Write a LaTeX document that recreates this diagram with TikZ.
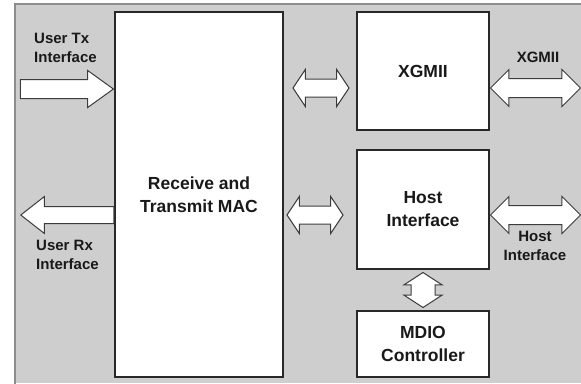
\documentclass[tikz,border=0pt]{standalone}
\usepackage{fontspec}
\setmainfont{Liberation Sans}
\usetikzlibrary{shapes.arrows,calc}
\definecolor{bggray}{RGB}{206,206,206}
\definecolor{framegray}{RGB}{140,140,140}
\definecolor{boxline}{RGB}{40,40,40}
\definecolor{arrowline}{RGB}{60,60,60}
\definecolor{txtgray}{RGB}{25,25,25}
\tikzset{
  block/.style={draw=boxline,fill=white,line width=1.5pt,inner sep=0pt,align=center,
    font=\bfseries\fontsize{17.5}{23}\selectfont,text=txtgray},
  lbl/.style={inner sep=0pt,font=\bfseries\fontsize{15}{19}\selectfont,text=txtgray},
  sglarrow/.style={single arrow,draw=arrowline,fill=white,line width=1pt,inner xsep=0pt},
  dblarrow/.style={double arrow,draw=arrowline,fill=white,line width=1pt,inner xsep=0pt}
}
\begin{document}
\begin{tikzpicture}[x=1pt,y=-1pt]
  \useasboundingbox (0,0) rectangle (581,383);
  % panel
  \fill[bggray] (15,3) rectangle (581,383);
  \draw[framegray,line width=2pt] (15,384) -- (15,4) -- (582,4);
  % blocks
  \node[block,minimum width=168pt,minimum height=365pt] (mac) at (199,194.5) {Receive and\\Transmit MAC};
  \node[block,minimum width=132pt,minimum height=118pt] (xgmii) at (423,71) {XGMII};
  \node[block,minimum width=132pt,minimum height=119pt] (host) at (423,209.5) {Host\\Interface};
  \node[block,minimum width=132pt,minimum height=66pt] (mdio) at (423,344) {MDIO\\Controller};
  % user side
  \node[sglarrow,minimum height=93pt,inner ysep=9pt,single arrow head extend=9pt,
    single arrow tip angle=71.5,anchor=tip] (txarrow) at (mac.west |- 0,89) {};
  \node[sglarrow,minimum height=93pt,inner ysep=8pt,single arrow head extend=10pt,
    single arrow tip angle=76,shape border rotate=180,anchor=tail] (rxarrow) at (mac.west |- 0,215) {};
  \node[lbl,align=left,anchor=west] (txlbl) at (34,48) {User Tx\\Interface};
  \node[lbl,align=left,anchor=west] (rxlbl) at (36,255) {User Rx\\Interface};
  % MAC to blocks
  \node[dblarrow,minimum height=56pt,inner ysep=8.5pt,double arrow head extend=9.5pt,
    double arrow tip angle=112.6] (macxgmii) at (321,88) {};
  \node[dblarrow,minimum height=56pt,inner ysep=8.5pt,double arrow head extend=9.5pt,
    double arrow tip angle=112.6] (machost) at (315,215) {};
  % external side
  \node[dblarrow,minimum height=90pt,inner ysep=9pt,double arrow head extend=9pt,
    double arrow tip angle=90,anchor=west] (xgmiiout) at (xgmii.east |- 0,88) {};
  \node[dblarrow,minimum height=90pt,inner ysep=9pt,double arrow head extend=9pt,
    double arrow tip angle=90,anchor=west] (hostout) at (host.east |- 0,215) {};
  \node[lbl] (xgmiilbl) at (538,57) {XGMII};
  \node[lbl,align=center] (hostlbl) at (535,246) {Host\\Interface};
  % host to MDIO
  \node[dblarrow,minimum height=35pt,inner ysep=11.5pt,double arrow head extend=7pt,
    double arrow tip angle=114,rotate=90] (hostmdio) at ($(host.south)!0.5!(mdio.north)$) {};
\end{tikzpicture}
\end{document}
